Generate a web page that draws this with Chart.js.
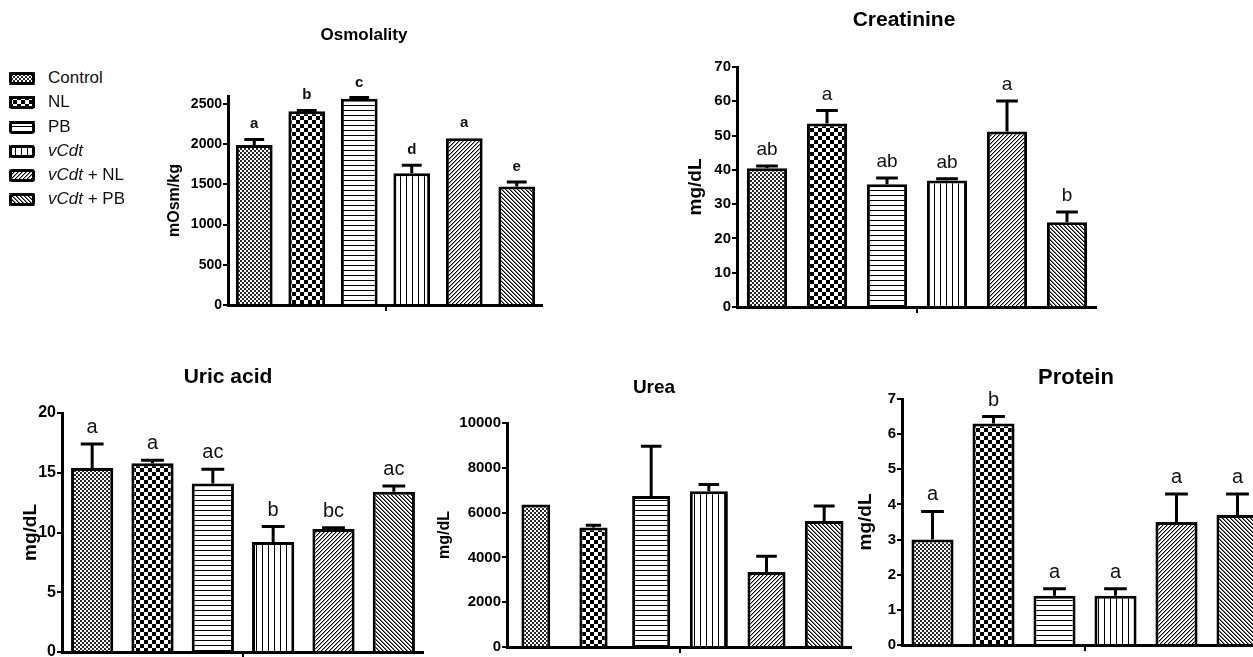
<!DOCTYPE html>
<html>
<head>
<meta charset="utf-8">
<script src="https://cdn.jsdelivr.net/npm/chart.js@4.4.1/dist/chart.umd.min.js"></script>
<style>
    html, body { margin: 0; padding: 0; background: #fff; }
    body { width: 1253px; height: 657px; overflow: hidden; position: relative; font-family: "Liberation Sans", Arial, sans-serif; }
    .panel { position: absolute; }
    #protein { background: #fff; }
    .row { position: absolute; left: 9px; height: 24px; display: flex; align-items: center; white-space: nowrap; font-size: 17px; color: #111; }
    .row canvas { margin-right: 13px; }
</style>
</head>
<body>
<div id="legend"></div>
<canvas id="osmo" class="panel"></canvas>
<canvas id="creat" class="panel"></canvas>
<canvas id="uric" class="panel"></canvas>
<canvas id="urea" class="panel"></canvas>
<canvas id="protein" class="panel"></canvas>
<script>
Chart.defaults.font.family = '"Liberation Sans", Arial, sans-serif';
Chart.defaults.color = '#000';
Chart.defaults.animation = false;

const groups = ['Control', 'NL', 'PB', 'vCdt', 'vCdt + NL', 'vCdt + PB'];
const patternKinds = ['fine', 'check', 'hlines', 'vlines', 'fdiag', 'bdiag'];

// values (mean, upper error, letters)
const osmoValues = [1990, 2410, 2565, 1640, 2075, 1475];
const osmoErrors = [70, 10, 15, 100, 0, 55];
const osmoLetters = ['a', 'b', 'c', 'd', 'a', 'e'];
const osmoRange = [0, 2600];
const osmoTicks = [0, 500, 1000, 1500, 2000, 2500];

const creatValues = [40.5, 53.5, 35.8, 36.9, 51.2, 24.7];
const creatErrors = [0.6, 3.8, 1.8, 0.5, 8.9, 3.0];
const creatLetters = ['ab', 'a', 'ab', 'ab', 'a', 'b'];
const creatRange = [0, 70];
const creatTicks = [0, 10, 20, 30, 40, 50, 60, 70];

const uricValues = [15.4, 15.8, 14.1, 9.2, 10.3, 13.4];
const uricErrors = [2.0, 0.25, 1.2, 1.3, 0.1, 0.5];
const uricLetters = ['a', 'a', 'ac', 'b', 'bc', 'ac'];
const uricRange = [0, 20];
const uricTicks = [0, 5, 10, 15, 20];

const ureaValues = [6360, 5330, 6740, 6950, 3350, 5625];
const ureaErrors = [0, 100, 2220, 300, 700, 670];
const ureaLetters = ['', '', '', '', '', ''];
const ureaRange = [0, 10000];
const ureaTicks = [0, 2000, 4000, 6000, 8000, 10000];

const protValues = [3.0, 6.3, 1.4, 1.4, 3.5, 3.7];
const protErrors = [0.8, 0.2, 0.2, 0.2, 0.8, 0.6];
const protLetters = ['a', 'b', 'a', 'a', 'a', 'a'];
const protRange = [0, 7];
const protTicks = [0, 1, 2, 3, 4, 5, 6, 7];


function makePattern(kind) {
    const c = document.createElement('canvas');
    const g = c.getContext('2d');
    let n = 4;
    if (kind === 'check') n = 8;
    if (kind === 'hlines') n = 5;
    if (kind === 'vlines') n = 6;
    c.width = n;
    c.height = n;
    g.fillStyle = '#fff';
    g.fillRect(0, 0, n, n);
    g.fillStyle = '#000';
    if (kind === 'fine') {
        g.fillStyle = '#2a2a2a';
        g.fillRect(0, 0, 2, 2);
        g.fillRect(2, 2, 2, 2);
    }
    if (kind === 'check') {
        g.fillRect(0, 0, 4, 4);
        g.fillRect(4, 4, 4, 4);
    }
    if (kind === 'hlines') g.fillRect(0, 0, n, 1);
    if (kind === 'vlines') g.fillRect(0, 0, 1, n);
    if (kind === 'fdiag') {
        for (let i = 0; i < n; i++) {
            g.fillStyle = '#000';
            g.fillRect(i, n - 1 - i, 1, 1);
            g.fillStyle = '#999';
            g.fillRect((i + 1) % n, n - 1 - i, 1, 1);
        }
    }
    if (kind === 'bdiag') {
        for (let i = 0; i < n; i++) {
            g.fillStyle = '#000';
            g.fillRect(i, i, 1, 1);
            g.fillStyle = '#777';
            g.fillRect((i + 1) % n, i, 1, 1);
        }
    }
    return g.createPattern(c, 'repeat');
}

const patterns = patternKinds.map(makePattern);

// legend
const legend = document.getElementById('legend');
const legendTops = [66, 90, 115, 139, 163, 187];
groups.forEach((g, i) => {
    const row = document.createElement('div');
    row.className = 'row';
    row.style.top = legendTops[i] + 'px';
    const sw = document.createElement('canvas');
    sw.width = 26;
    sw.height = 13;
    const sctx = sw.getContext('2d');
    sctx.fillStyle = patterns[i];
    sctx.fillRect(0, 0, 26, 13);
    sctx.strokeStyle = '#000';
    sctx.lineWidth = 3;
    sctx.beginPath();
    sctx.roundRect(1.5, 1.5, 23, 10, 2);
    sctx.stroke();
    row.appendChild(sw);
    const label = document.createElement('span');
    label.innerHTML = g.replace('vCdt', '<i>vCdt</i>');
    row.appendChild(label);
    legend.appendChild(row);
});


function buildPanel(id, p) {
    const canvas = document.getElementById(id);
    canvas.width = p.box[2];
    canvas.height = p.box[3];
    canvas.style.left = p.box[0] + 'px';
    canvas.style.top = p.box[1] + 'px';

    const datasets = groups.map((g, i) => ({
        label: g,
        data: p.values.map((v, j) => j === i ? v : null),
        backgroundColor: patterns[i],
        borderColor: '#000',
        borderWidth: 3,
        borderSkipped: 'bottom',
        barPercentage: Array.isArray(p.barPct) ? p.barPct[i] : p.barPct,
        categoryPercentage: 1,
        grouped: false
    }));

    const extras = {
        id: 'extras' + id,
        afterDatasetsDraw(chart) {
            const ctx = chart.ctx;
            const y = chart.scales.y;
            ctx.save();
            ctx.strokeStyle = '#000';
            ctx.fillStyle = '#111';
            ctx.lineWidth = 3;
            ctx.font = p.letterFont;
            ctx.textAlign = 'center';
            ctx.textBaseline = 'alphabetic';
            p.errors.forEach((e, i) => {
                const bar = chart.getDatasetMeta(i).data[i];
                const yTop = y.getPixelForValue(p.values[i] + e);
                if (e > 0) {
                    const half = bar.width * 0.27;
                    ctx.beginPath();
                    ctx.moveTo(bar.x, bar.y);
                    ctx.lineTo(bar.x, yTop);
                    ctx.moveTo(bar.x - half, yTop);
                    ctx.lineTo(bar.x + half, yTop);
                    ctx.stroke();
                }
                if (p.letters[i]) ctx.fillText(p.letters[i], bar.x, yTop - 11);
            });
            ctx.font = 'bold ' + p.titleSize + 'px "Liberation Sans", Arial, sans-serif';
            ctx.fillStyle = '#000';
            ctx.textBaseline = 'middle';
            ctx.fillText(p.title, p.titlePos[0], p.titlePos[1]);
            ctx.restore();
        }
    };

    return new Chart(canvas, {
        type: 'bar',
        data: { labels: groups, datasets: datasets },
        plugins: [extras],
        options: {
            responsive: false,
            layout: { padding: { top: p.padTop, left: 0, right: 0, bottom: 0 } },
            plugins: {
                legend: { display: false },
                tooltip: { enabled: false }
            },
            scales: {
                x: {
                    z: 1,
                    grid: {
                        drawOnChartArea: false,
                        drawTicks: true,
                        tickLength: 6,
                        lineWidth: 2,
                        offset: true,
                        color: c => c.index === 3 ? '#000' : 'rgba(0,0,0,0)'
                    },
                    border: { display: true, color: '#000', width: 3 },
                    ticks: { display: false },
                    afterFit: s => { s.height = p.xH; }
                },
                y: {
                    min: p.range[0],
                    max: p.range[1],
                    grid: { drawOnChartArea: false, drawTicks: true, tickLength: 5, lineWidth: 2, color: '#000' },
                    border: { display: true, color: '#000', width: 3 },
                    ticks: {
                        padding: 1,
                        font: { size: p.tickSize, weight: 'bold' },
                        callback: v => String(v)
                    },
                    afterBuildTicks: s => { s.ticks = p.ticks.map(v => ({ value: v })); },
                    title: {
                        display: true,
                        text: p.ylabel,
                        font: { size: p.ylabelSize, weight: 'bold' },
                        padding: { top: p.ylabelPad, bottom: 0 }
                    },
                    afterFit: s => { s.width = p.yW; }
                }
            }
        }
    });
}

buildPanel('osmo', {
    values: osmoValues, errors: osmoErrors, letters: osmoLetters, range: osmoRange, ticks: osmoTicks,
    title: 'Osmolality', ylabel: 'mOsm/kg',
    box: [160, 0, 383, 330], yW: 68, padTop: 96, xH: 25, ylabelPad: 5,
    titlePos: [204, 35], titleSize: 17, tickSize: 14, ylabelSize: 16,
    letterFont: 'bold 15px "Liberation Sans", Arial, sans-serif', barPct: 0.70
});

buildPanel('creat', {
    values: creatValues, errors: creatErrors, letters: creatLetters, range: creatRange, ticks: creatTicks,
    title: 'Creatinine', ylabel: 'mg/dL',
    box: [682, 0, 415, 330], yW: 55, padTop: 67, xH: 23, ylabelPad: 2,
    titlePos: [222, 20], titleSize: 21, tickSize: 15, ylabelSize: 19,
    letterFont: '19px "Liberation Sans", Arial, sans-serif', barPct: 0.67
});

buildPanel('uric', {
    values: uricValues, errors: uricErrors, letters: uricLetters, range: uricRange, ticks: uricTicks,
    title: 'Uric acid', ylabel: 'mg/dL',
    box: [16, 360, 408, 310], yW: 46, padTop: 53, xH: 18, ylabelPad: 3,
    titlePos: [212, 17], titleSize: 21, tickSize: 16, ylabelSize: 19,
    letterFont: '20px "Liberation Sans", Arial, sans-serif', barPct: 0.70
});

buildPanel('urea', {
    values: ureaValues, errors: ureaErrors, letters: ureaLetters, range: ureaRange, ticks: ureaTicks,
    title: 'Urea', ylabel: 'mg/dL',
    box: [430, 360, 423, 310], yW: 77, padTop: 63, xH: 23, ylabelPad: 5,
    titlePos: [224, 28], titleSize: 19, tickSize: 15, ylabelSize: 16,
    letterFont: '19px "Liberation Sans", Arial, sans-serif', barPct: [0.50, 0.49, 0.66, 0.66, 0.66, 0.67]
});

buildPanel('protein', {
    values: protValues, errors: protErrors, letters: protLetters, range: protRange, ticks: protTicks,
    title: 'Protein', ylabel: 'mg/dL',
    box: [852, 360, 416, 310], yW: 50, padTop: 39, xH: 25, ylabelPad: 2,
    titlePos: [224, 18], titleSize: 22, tickSize: 15, ylabelSize: 19,
    letterFont: '20px "Liberation Sans", Arial, sans-serif', barPct: 0.69
});
</script>
</body>
</html>
